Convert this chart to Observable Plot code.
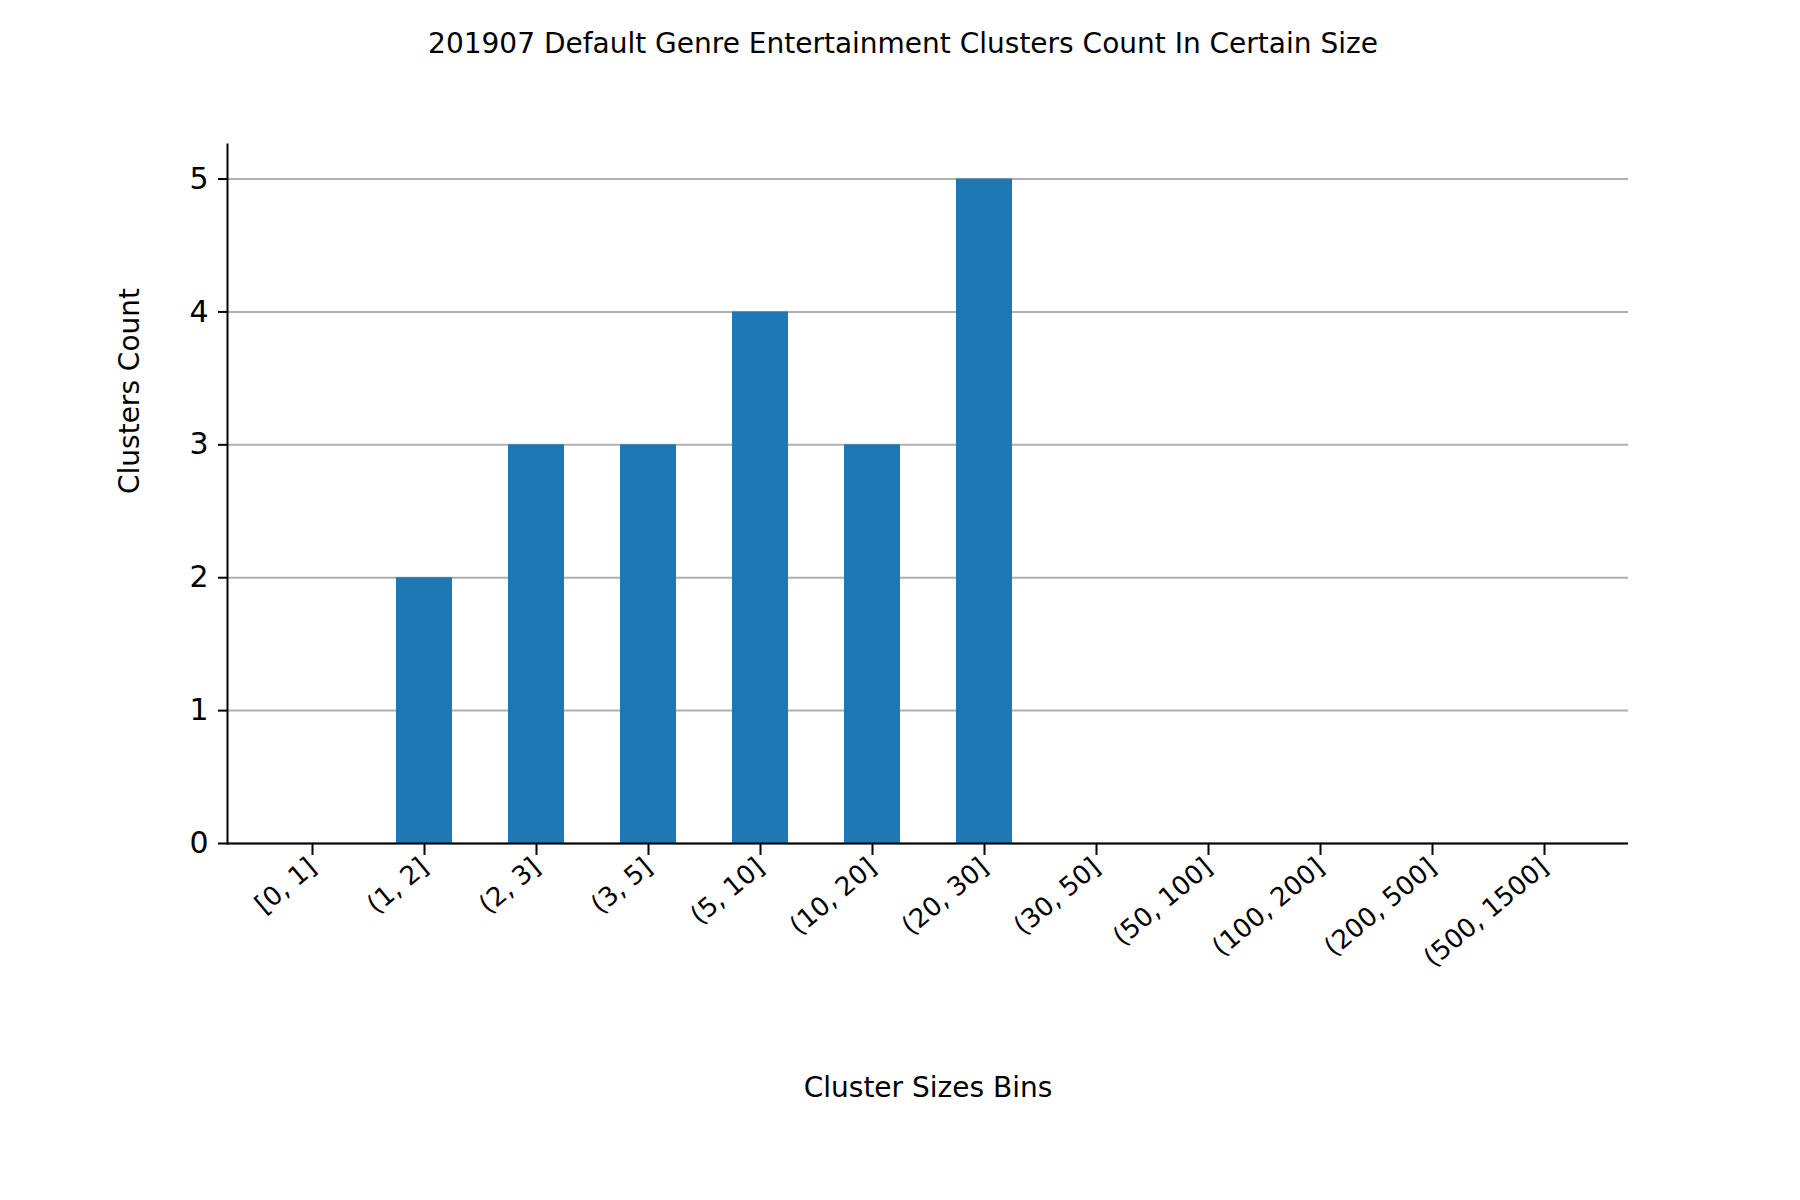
<!DOCTYPE html>
<html><head><meta charset="utf-8">
<script src="https://cdn.jsdelivr.net/npm/d3@7"></script>
<script src="https://cdn.jsdelivr.net/npm/@observablehq/plot@0.6"></script>
<style>
body{margin:0;background:#fff;font-family:"DejaVu Sans",sans-serif}
#title{width:1806px;height:87px;text-align:center;font-size:28px;line-height:88px;color:#000}
</style></head>
<body>
<div id="title">201907 Default Genre Entertainment Clusters Count In Certain Size</div>
<div id="chart"></div>
<script>
const bins = ['[0, 1]','(1, 2]','(2, 3]','(3, 5]','(5, 10]','(10, 20]','(20, 30]','(30, 50]','(50, 100]','(100, 200]','(200, 500]','(500, 1500]']
const counts = [0, 2, 3, 3, 4, 3, 5, 0, 0, 0, 0, 0]
const data = bins.map((b, i) => ({bin: b, count: counts[i]}))

const chart = Plot.plot({
  width: 1800, height: 1113,
  marginLeft: 227, marginRight: 172, marginTop: 57, marginBottom: 357,
  style: {fontFamily: 'DejaVu Sans, sans-serif', fontSize: '25px', color: '#000', background: '#fff'},
  x: {domain: bins, padding: 0.5, label: null},
  y: {domain: [0, 5.26], label: null},
  marks: [
    Plot.gridY([0,1,2,3,4,5], {stroke: '#b0b0b0', strokeOpacity: 1, strokeWidth: 2}),
    Plot.barY(data, {x: 'bin', y: 'count', fill: '#1f77b4'}),
    Plot.ruleY([0], {stroke: '#000', strokeWidth: 2}),
    Plot.frame({anchor: 'left', stroke: '#000', strokeWidth: 2}),
    Plot.axisY({ticks: [0,1,2,3,4,5], tickFormat: d => d, tickSize: 9, tickPadding: 10, fontSize: 30, label: null, strokeWidth: 2}),
    Plot.axisX({tickRotate: -40, tickSize: 12, tickPadding: 8, fontSize: 26, label: null, strokeWidth: 2}),
    Plot.text(['Cluster Sizes Bins'], {frameAnchor: 'bottom', dy: 253, fontSize: 28}),
    Plot.text(['Clusters Count'], {frameAnchor: 'left', dx: -97, rotate: -90, fontSize: 28})
  ]
})
d3.select('#chart').append(() => chart)
</script>
</body></html>
